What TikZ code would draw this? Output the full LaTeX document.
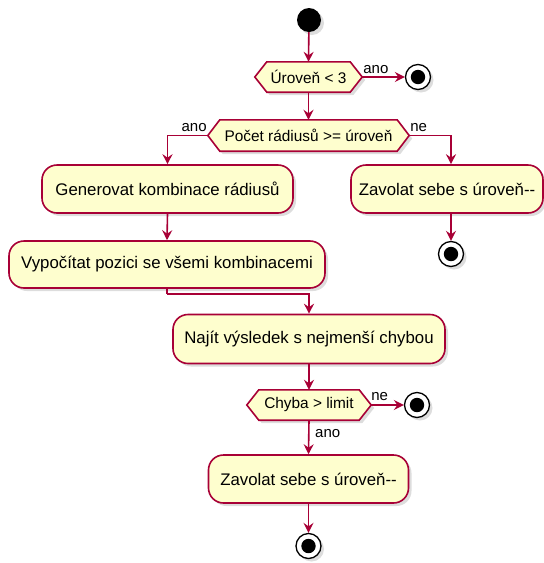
\documentclass[tikz,border=0pt]{standalone}
\usepackage{fontspec}
\setmainfont{Liberation Sans}
\usetikzlibrary{shadows,arrows.meta,calc,backgrounds}
\definecolor{actfill}{HTML}{FEFECE}
\definecolor{actline}{HTML}{A80036}
\tikzset{
  softshadow/.style={drop shadow={shadow xshift=3pt,shadow yshift=-3pt,opacity=0.22,fill=black!60}},
  activity/.style={draw=actline,fill=actfill,line width=1.6pt,rounded corners=15pt,
    softshadow,font=\fontsize{16.8}{20}\selectfont,inner sep=0pt,text=black},
  decision/.style={inner sep=0pt,font=\fontsize{15.4}{18}\selectfont,text=black},
  hexline/.style={draw=actline,fill=actfill,line width=1.6pt,softshadow},
  startdot/.style={circle,fill=black,minimum size=24pt,inner sep=0pt,softshadow},
  stopdot/.style={circle,draw=black,fill=white,line width=1.3pt,minimum size=25pt,inner sep=0pt,
    softshadow,path picture={\fill[black] (path picture bounding box.center) circle (7.2pt);}},
  flow/.style={draw=actline,line width=1.6pt,-{Stealth[length=10pt,width=10pt,inset=3.5pt]}},
  plainflow/.style={draw=actline,line width=1.6pt},
  lbl/.style={font=\fontsize{15}{18}\selectfont,inner sep=0pt,text=black},
}
% hexagon outline behind a decision node, slanted ends of 12pt
\newcommand{\hexof}[1]{%
  \begin{pgfonlayer}{background}
    \path[hexline] (#1.west) -- ([xshift=12pt]#1.north west) -- ([xshift=-12pt]#1.north east)
      -- (#1.east) -- ([xshift=-12pt]#1.south east) -- ([xshift=12pt]#1.south west) -- cycle;
  \end{pgfonlayer}}
% two separate hyphens, kept apart from the en-dash ligature
\newcommand{\twohyph}{-\kern0pt-}
\begin{document}
\begin{tikzpicture}[x=1pt,y=-1pt]
\useasboundingbox (0,0) rectangle (544,563);

% nodes
\node[startdot] (start) at (309,20) {};
\node[decision,minimum width=107pt,minimum height=30pt] (d1) at (308.5,77) {Úroveň < 3};
\hexof{d1}
\node[stopdot] (stop1) at (418,77) {};

\node[decision,minimum width=201pt,minimum height=31pt] (d2) at (308.5,135.5) {Počet rádiusů >= úroveň};
\hexof{d2}

\node[activity,minimum width=251pt,minimum height=48pt] (b1) at (167.5,189) {Generovat kombinace rádiusů};
\node[activity,minimum width=192pt,minimum height=48pt] (b2) at (447,189) {Zavolat sebe s úroveň\twohyph};
\node[stopdot] (stop2) at (451,254) {};

\node[activity,minimum width=316pt,minimum height=47pt] (b3) at (167,264.5) {Vypočítat pozici se všemi kombinacemi};
\coordinate (merge) at (167,294);

\node[activity,minimum width=272pt,minimum height=49pt] (b4) at (309,339) {Najít výsledek s nejmenší chybou};

\node[decision,minimum width=124pt,minimum height=30pt] (d3) at (309,405) {Chyba > limit};
\hexof{d3}
\node[stopdot] (stop3) at (417,405) {};

\node[activity,minimum width=200pt,minimum height=48pt] (b5) at (308.5,479) {Zavolat sebe s úroveň\twohyph};
\node[stopdot] (stop4) at (308.5,546) {};

% connectors
\draw[flow] (start) -- (d1.north);
\draw[flow] (d1.east) -- (stop1);
\node[lbl,anchor=base west] (l1) at ($(d1.east)+(1,-4)$) {ano};
\draw[flow] (d1.south) -- (d2.north);

\draw[flow] (d2.west) -| (b1.north);
\node[lbl,anchor=base east] (l2) at ($(d2.west)+(-1,-4.5)$) {ano};
\draw[flow] (d2.east) -| (stop2 |- b2.north);
\node[lbl,anchor=base west] (l3) at ($(d2.east)+(1,-4.5)$) {ne};

\draw[flow] (b1.south) -- (b3.north);
\draw[flow] (stop2 |- b2.south) -- (stop2);

\draw[plainflow] (b3.south) -- (merge);
\draw[flow] (merge) -| (b4.north);

\draw[flow] (b4.south) -- (d3.north);
\draw[flow] (d3.east) -- (stop3);
\node[lbl,anchor=base west] (l4) at ($(d3.east)+(0,-4.5)$) {ne};
\draw[flow] (d3.south) -- (b5.north);
\node[lbl,anchor=base west] (l5) at ($(d3.south)+(6,17)$) {ano};
\draw[flow] (b5.south) -- (stop4);
\end{tikzpicture}
\end{document}
